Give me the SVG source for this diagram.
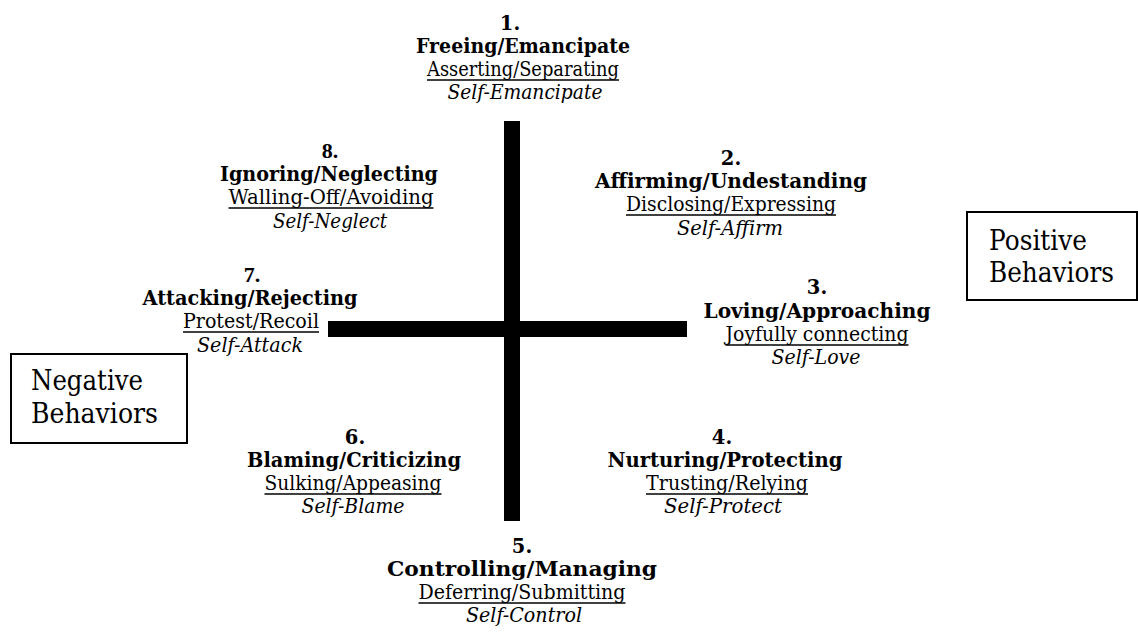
<svg xmlns="http://www.w3.org/2000/svg" width="1138" height="632" viewBox="0 0 1138 632">
  <style>
    text { font-family: "DejaVu Serif", "Liberation Serif", serif; fill: #000; text-anchor: middle; }
    .num { font-size: 19.5px; font-weight: bold; }
    .num-t { font-family: "Liberation Serif", serif; font-size: 22px; font-weight: bold; }
    .head { font-size: 20px; font-weight: bold; }
    .act { font-size: 20px; }
    .self { font-size: 20px; font-style: italic; }
    .side { font-size: 27px; text-anchor: start; }
    .ul { stroke: #000; stroke-width: 1.4; }
    .box { fill: #fff; stroke: #000; stroke-width: 2; }
    .bar { fill: #000; }
  </style>

  <!-- central cross -->
  <g id="axes">
    <rect class="bar" x="504" y="121" width="16" height="400"/>
    <rect class="bar" x="328" y="321" width="359" height="16"/>
  </g>

  <g id="node-1">
    <text class="num" x="510" y="30">1.</text>
    <text class="head" x="523" y="53" textLength="214" lengthAdjust="spacingAndGlyphs">Freeing/Emancipate</text>
    <text class="act" x="523" y="76" textLength="192" lengthAdjust="spacingAndGlyphs">Asserting/Separating</text>
    <line class="ul" x1="427" y1="80" x2="619" y2="80"/>
    <text class="self" x="525" y="99" textLength="155" lengthAdjust="spacingAndGlyphs">Self-Emancipate</text>
  </g>

  <g id="node-2">
    <text class="num" x="731" y="165">2.</text>
    <text class="head" x="731" y="188" textLength="272" lengthAdjust="spacingAndGlyphs">Affirming/Undestanding</text>
    <text class="act" x="731" y="211" textLength="210" lengthAdjust="spacingAndGlyphs">Disclosing/Expressing</text>
    <line class="ul" x1="626" y1="215" x2="836" y2="215"/>
    <text class="self" x="730" y="235" textLength="106" lengthAdjust="spacingAndGlyphs">Self-Affirm</text>
  </g>

  <g id="node-3">
    <text class="num" x="817" y="294">3.</text>
    <text class="head" x="817" y="318" textLength="227" lengthAdjust="spacingAndGlyphs">Loving/Approaching</text>
    <text class="act" x="817" y="341" textLength="183" lengthAdjust="spacingAndGlyphs">Joyfully connecting</text>
    <line class="ul" x1="725.5" y1="345" x2="908.5" y2="345"/>
    <text class="self" x="816" y="364" textLength="89" lengthAdjust="spacingAndGlyphs">Self-Love</text>
  </g>

  <g id="node-4">
    <text class="num" x="722" y="444">4.</text>
    <text class="head" x="725" y="467" textLength="235" lengthAdjust="spacingAndGlyphs">Nurturing/Protecting</text>
    <text class="act" x="727" y="490" textLength="162" lengthAdjust="spacingAndGlyphs">Trusting/Relying</text>
    <line class="ul" x1="646" y1="494" x2="808" y2="494"/>
    <text class="self" x="723" y="513" textLength="118" lengthAdjust="spacingAndGlyphs">Self-Protect</text>
  </g>

  <g id="node-5">
    <text class="num" x="522" y="553">5.</text>
    <text class="head" x="522" y="576" textLength="270" lengthAdjust="spacingAndGlyphs">Controlling/Managing</text>
    <text class="act" x="522" y="599" textLength="207" lengthAdjust="spacingAndGlyphs">Deferring/Submitting</text>
    <line class="ul" x1="418.5" y1="603" x2="625.5" y2="603"/>
    <text class="self" x="524" y="622" textLength="116" lengthAdjust="spacingAndGlyphs">Self-Control</text>
  </g>

  <g id="node-6">
    <text class="num" x="355" y="444">6.</text>
    <text class="head" x="354" y="467" textLength="214" lengthAdjust="spacingAndGlyphs">Blaming/Criticizing</text>
    <text class="act" x="353" y="490" textLength="177" lengthAdjust="spacingAndGlyphs">Sulking/Appeasing</text>
    <line class="ul" x1="264.5" y1="494" x2="441.5" y2="494"/>
    <text class="self" x="353" y="513" textLength="103" lengthAdjust="spacingAndGlyphs">Self-Blame</text>
  </g>

  <g id="node-7">
    <text class="num-t" x="252" y="282">7.</text>
    <text class="head" x="250" y="305" textLength="215" lengthAdjust="spacingAndGlyphs">Attacking/Rejecting</text>
    <text class="act" x="251" y="328" textLength="136" lengthAdjust="spacingAndGlyphs">Protest/Recoil</text>
    <line class="ul" x1="183" y1="332" x2="319" y2="332"/>
    <text class="self" x="250" y="352" textLength="106" lengthAdjust="spacingAndGlyphs">Self-Attack</text>
  </g>

  <g id="node-8">
    <text class="num-t" x="330" y="158">8.</text>
    <text class="head" x="329" y="181" textLength="218" lengthAdjust="spacingAndGlyphs">Ignoring/Neglecting</text>
    <text class="act" x="331" y="204" textLength="205" lengthAdjust="spacingAndGlyphs">Walling-Off/Avoiding</text>
    <line class="ul" x1="228.5" y1="208" x2="433.5" y2="208"/>
    <text class="self" x="330" y="228" textLength="114" lengthAdjust="spacingAndGlyphs">Self-Neglect</text>
  </g>

  <g id="positive-behaviors">
    <rect class="box" x="967" y="212" width="170" height="88"/>
    <text class="side" x="989" y="250" textLength="98" lengthAdjust="spacingAndGlyphs">Positive</text>
    <text class="side" x="989" y="282" textLength="125" lengthAdjust="spacingAndGlyphs">Behaviors</text>
  </g>

  <g id="negative-behaviors">
    <rect class="box" x="11" y="354" width="176" height="89"/>
    <text class="side" x="31" y="390" textLength="112" lengthAdjust="spacingAndGlyphs">Negative</text>
    <text class="side" x="31" y="423" textLength="127" lengthAdjust="spacingAndGlyphs">Behaviors</text>
  </g>
</svg>
